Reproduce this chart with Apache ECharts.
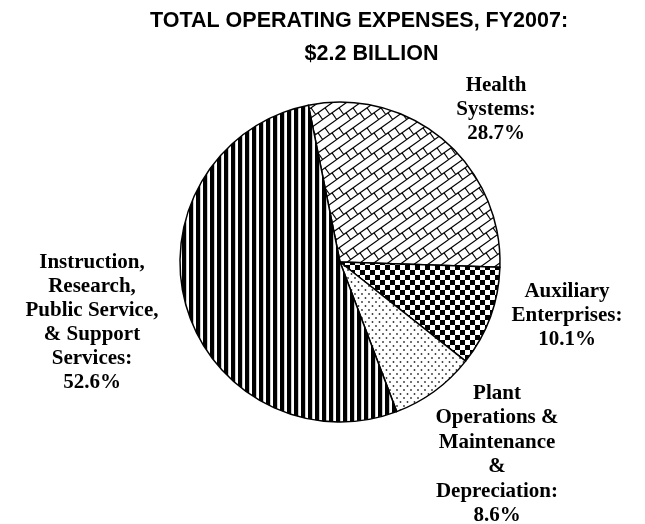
<!DOCTYPE html>
<html>
<head>
<meta charset="utf-8">
<script src="https://cdn.jsdelivr.net/npm/echarts@6/dist/echarts.min.js"></script>
<style>html,body{margin:0;padding:0;background:#fff;}#c{width:645px;height:524px;}</style>
</head>
<body>
<div id="c"></div>
<script>
const categories = ['Health\nSystems:', 'Auxiliary\nEnterprises:', 'Plant\nOperations &\nMaintenance\n&\nDepreciation:', 'Instruction,\nResearch,\nPublic Service,\n& Support\nServices:'];
const values = [28.7, 10.1, 8.6, 52.6];
const titleLines = ['TOTAL OPERATING EXPENSES, FY2007:', '$2.2 BILLION'];

function tile(w, h, draw) {
  const c = document.createElement('canvas');
  c.width = w; c.height = h;
  const g = c.getContext('2d');
  g.fillStyle = '#fff'; g.fillRect(0, 0, w, h);
  draw(g, w, h);
  return c;
}
function seg(g, w, h, x1, y1, x2, y2) {
  for (let i = -1; i <= 1; i++) for (let j = -1; j <= 1; j++) {
    g.beginPath(); g.moveTo(x1 + i * w, y1 + j * h); g.lineTo(x2 + i * w, y2 + j * h); g.stroke();
  }
}
const brick = tile(14, 20, (g, w, h) => {
  g.strokeStyle = '#000'; g.lineWidth = 1.1;
  for (let k = -2; k <= 4; k++) { const c = 10 * k; g.beginPath(); g.moveTo(-14, c + 20); g.lineTo(28, c - 10); g.stroke(); }
  [[10, 3], [20, 10]].forEach(([c, a]) => { const y0 = c - 10 * a / 14; seg(g, w, h, a, y0, a + 4.73, y0 + 6.62); });
});
const checker = tile(10, 10, (g) => {
  g.fillStyle = '#000'; g.fillRect(0, 0, 5, 5); g.fillRect(5, 5, 5, 5);
});
const dots = tile(7, 8, (g) => {
  g.fillStyle = '#333';
  [[1.5, 2], [5, 6]].forEach(([x, y]) => { g.beginPath(); g.arc(x, y, 0.9, 0, Math.PI * 2); g.fill(); });
});
const stripes = tile(7, 4, (g) => { g.fillStyle = '#000'; g.fillRect(0, 0, 4.2, 4); });
const patterns = [brick, checker, dots, stripes];
const labelPos = [[496, 74], [567, 280], [497, 381], [92, 251]];
const lineHeights = [24, 24, 24.5, 24];

const chart = echarts.init(document.getElementById('c'), null, { renderer: 'canvas' });
chart.setOption({
  animation: false,
  graphic: [
    { type: 'text', x: 359, y: 21, style: { text: titleLines[0], font: 'bold 21.5px "Liberation Sans", Arial', fill: '#000', align: 'center', verticalAlign: 'middle' } },
    { type: 'text', x: 371.5, y: 54, style: { text: titleLines[1], font: 'bold 21.5px "Liberation Sans", Arial', fill: '#000', align: 'center', verticalAlign: 'middle' } }
  ],
  series: [{
    type: 'pie',
    center: [340, 262],
    radius: 160,
    startAngle: 101.4,
    clockwise: true,
    silent: true,
    data: values.map((v, i) => ({
      name: categories[i], value: v,
      itemStyle: { color: { image: patterns[i], repeat: 'repeat' } },
      label: { lineHeight: lineHeights[i] }
    })),
    itemStyle: { borderColor: '#000', borderWidth: 1.5 },
    label: {
      show: true,
      position: 'outside',
      overflow: 'none',
      formatter: p => p.name + '\n' + p.value.toFixed(1) + '%',
      fontFamily: '"Liberation Serif", "Times New Roman", serif',
      fontWeight: 'bold', fontSize: 21, lineHeight: 24, color: '#000', align: 'center'
    },
    labelLine: { show: false },
    labelLayout: p => ({ x: labelPos[p.dataIndex][0], y: labelPos[p.dataIndex][1], align: 'center', verticalAlign: 'top' })
  }]
});
</script>
</body>
</html>
